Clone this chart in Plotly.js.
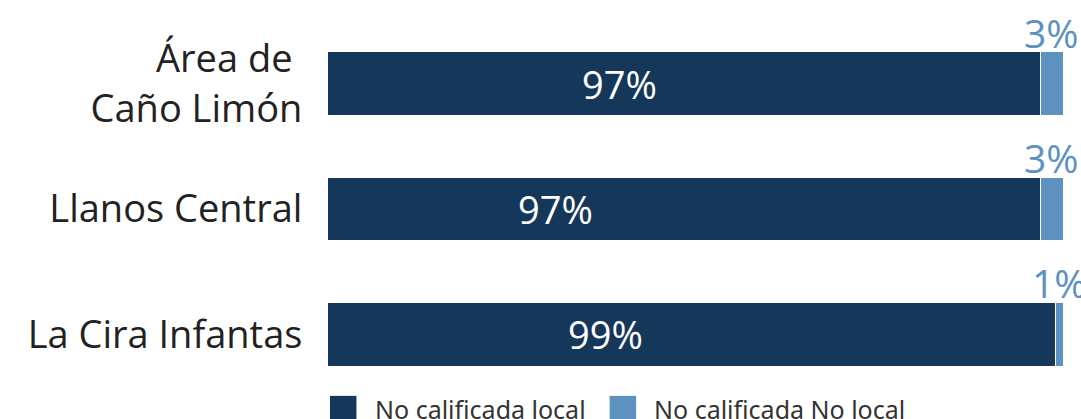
<!DOCTYPE html>
<html><head><meta charset="utf-8">
<script src="https://cdn.plot.ly/plotly-3.0.1.min.js"></script>
<style>html,body{margin:0;padding:0;background:#fff}#c{width:1081px;height:419px}</style>
</head><body><div id="c"></div>
<script>
const categories = ["Área de <br>Caño Limón", "Llanos Central", "La Cira Infantas"];
const localValues = [97, 97, 99];
const noLocalValues = [3, 3, 1];
const localLabels = ["97%", "97%", "99%"];
const noLocalLabels = ["3%", "3%", "1%"];
const seriesNames = ["No calificada local", "No calificada No local"];
// label anchor positions (layout, in axis units)
const localLabelX = [39.7, 31.1, 37.8];

const dark = "#15375a", light = "#5d91bf";
const fam = "'Open Sans', 'Noto Sans', sans-serif";
const traces = [
  {type:"bar", orientation:"h", y:categories, x:localValues, name:seriesNames[0],
   marker:{color:dark, line:{color:"#ffffff", width:1}}, width:0.51, hoverinfo:"skip", showlegend:false},
  {type:"bar", orientation:"h", y:categories, x:noLocalValues, name:seriesNames[1],
   marker:{color:light, line:{color:"#ffffff", width:1}}, width:0.51, hoverinfo:"skip", showlegend:false}
];
const annotations = [];
categories.forEach((c,i)=>{
  annotations.push({x:localLabelX[i], y:c, xref:"x", yref:"y", text:localLabels[i], showarrow:false,
    font:{family:fam, size:38, color:"#ffffff"}, xanchor:"center", yanchor:"middle"});
  annotations.push({x:localValues[i] + noLocalValues[i]/2, y:c, xref:"x", yref:"y", text:noLocalLabels[i], showarrow:false,
    font:{family:fam, size:39, color:light}, xanchor:"center", yanchor:"bottom", yshift:23});
});
// legend (drawn manually for large swatches)
const legX = [0.0, 0.38];
const shapes = [];
seriesNames.forEach((n,i)=>{
  shapes.push({type:"rect", xref:"paper", yref:"paper", x0:legX[i]+0.004, x1:legX[i]+0.04, y0:-0.07, y1:0.003,
    fillcolor:i===0?dark:light, line:{width:0}});
  annotations.push({xref:"paper", yref:"paper", x:legX[i]+0.062, y:-0.032, text:n, showarrow:false, xanchor:"left", yanchor:"middle",
    font:{family:"'Noto Sans', 'Open Sans', sans-serif", size:25, color:"#333333"}});
});
const layout = {
  width:1081, height:419, barmode:"stack", bargap:0.49,
  margin:{l:327, r:18, t:21, b:22},
  paper_bgcolor:"#fff", plot_bgcolor:"#fff",
  xaxis:{range:[0,100], showgrid:false, zeroline:false, showticklabels:false, showline:false, fixedrange:true},
  yaxis:{categoryorder:"array", categoryarray:categories.slice().reverse(), range:[-0.5,2.5],
    showgrid:false, zeroline:false, showline:false, ticks:"outside", ticklen:16, tickcolor:"rgba(0,0,0,0)",
    tickfont:{family:fam, size:38, color:"#222222"}},
  annotations, shapes, showlegend:false
};
Plotly.newPlot("c", traces, layout, {displayModeBar:false, staticPlot:true});
</script></body></html>
